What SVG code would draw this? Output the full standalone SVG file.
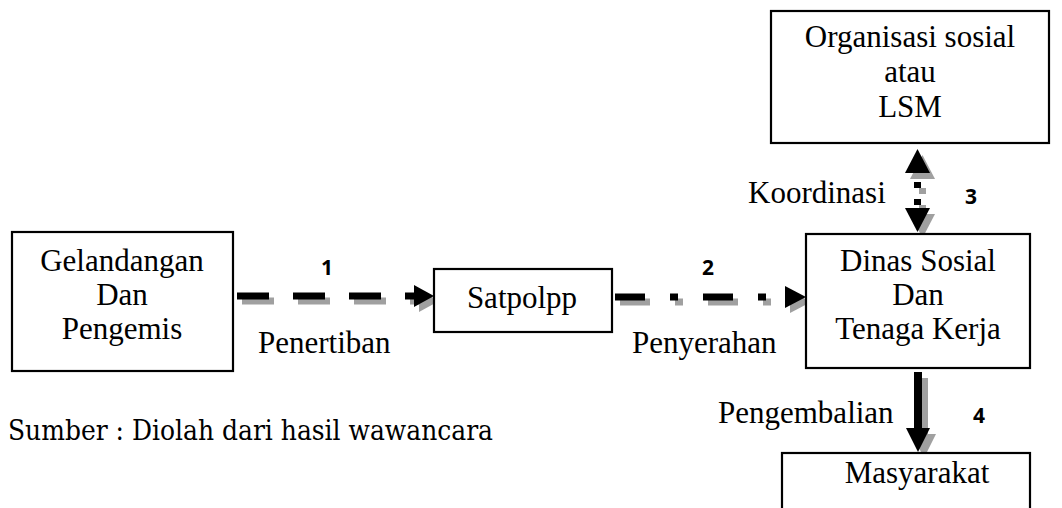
<svg xmlns="http://www.w3.org/2000/svg" width="1062" height="508" viewBox="0 0 1062 508">
<style>
.box{fill:#fff;stroke:#000;stroke-width:2.2}
.t{font-family:"Liberation Serif","Times New Roman",serif;font-size:31px;fill:#000;text-anchor:middle}
.lbl{font-family:"Liberation Serif","Times New Roman",serif;font-size:31px;fill:#000}
.num{font-family:"Noto Sans","Open Sans",sans-serif;font-size:21px;font-weight:bold;fill:#000;text-anchor:middle}
.src{font-family:"DejaVu Serif",serif;font-size:28px;fill:#000}
</style>
<rect width="1062" height="508" fill="#fff"/>

<g id="connectors">
  <g id="arrow1">
    <g transform="translate(5,5)">
      <line x1="237" y1="296" x2="418" y2="296" stroke="#a0a0a0" stroke-width="7" stroke-dasharray="32 24"/>
      <polygon points="414,285 434,296 414,307" fill="#a0a0a0"/>
    </g>
    <line x1="237" y1="296" x2="418" y2="296" stroke="#000" stroke-width="7" stroke-dasharray="32 24"/>
    <polygon points="414,285 434,296 414,307" fill="#000"/>
  </g>
  <g id="arrow2">
    <g transform="translate(5,5)">
      <line x1="615" y1="297" x2="770" y2="297" stroke="#a0a0a0" stroke-width="7" stroke-dasharray="30 25 8 25"/>
      <polygon points="785,286 806,297 785,308" fill="#a0a0a0"/>
    </g>
    <line x1="615" y1="297" x2="770" y2="297" stroke="#000" stroke-width="7" stroke-dasharray="30 25 8 25"/>
    <polygon points="785,286 806,297 785,308" fill="#000"/>
  </g>
  <g id="arrow3">
    <g transform="translate(5,6)">
      <polygon points="905,173 917.5,149 930,173" fill="#a0a0a0"/>
      <line x1="917.5" y1="182" x2="917.5" y2="208" stroke="#a0a0a0" stroke-width="7" stroke-dasharray="6 11"/>
      <polygon points="905,208 930,208 917.5,232" fill="#a0a0a0"/>
    </g>
    <polygon points="905,173 917.5,149 930,173" fill="#000"/>
    <line x1="917.5" y1="182" x2="917.5" y2="208" stroke="#000" stroke-width="7" stroke-dasharray="6 11"/>
    <polygon points="905,208 930,208 917.5,232" fill="#000"/>
  </g>
  <g id="arrow4">
    <g transform="translate(6,6)">
      <rect x="914" y="372" width="8" height="57" fill="#a0a0a0"/>
      <polygon points="906,428 930,428 918,452" fill="#a0a0a0"/>
    </g>
    <rect x="914" y="372" width="8" height="57" fill="#000"/>
    <polygon points="906,428 930,428 918,452" fill="#000"/>
  </g>
</g>

<g id="node-gelandangan">
  <rect class="box" x="12" y="232" width="221" height="139"/>
  <text class="t" x="122" y="271">Gelandangan</text>
  <text class="t" x="122" y="305">Dan</text>
  <text class="t" x="122" y="339">Pengemis</text>
</g>

<g id="node-satpolpp">
  <rect class="box" x="434" y="269" width="178" height="63"/>
  <text class="t" x="522" y="308">Satpolpp</text>
</g>

<g id="node-dinas">
  <rect class="box" x="806" y="234" width="224" height="134"/>
  <text class="t" x="918" y="271">Dinas Sosial</text>
  <text class="t" x="918" y="305">Dan</text>
  <text class="t" x="918" y="339">Tenaga Kerja</text>
</g>

<g id="node-organisasi">
  <rect class="box" x="771" y="11" width="278" height="132"/>
  <text class="t" x="910" y="47">Organisasi sosial</text>
  <text class="t" x="910" y="82">atau</text>
  <text class="t" x="910" y="117">LSM</text>
</g>

<g id="node-masyarakat">
  <rect class="box" x="782" y="453" width="248" height="70"/>
  <text class="t" x="917" y="483">Masyarakat</text>
</g>

<g id="labels">
  <text class="num" x="327" y="275">1</text>
  <text class="num" x="708" y="275">2</text>
  <text class="num" x="971" y="204">3</text>
  <text class="num" x="979" y="423">4</text>
  <text class="lbl" x="258" y="353">Penertiban</text>
  <text class="lbl" x="632" y="353">Penyerahan</text>
  <text class="lbl" x="748" y="203">Koordinasi</text>
  <text class="lbl" x="718" y="423">Pengembalian</text>
  <text class="src" x="8" y="440" textLength="485" lengthAdjust="spacingAndGlyphs">Sumber : Diolah dari hasil wawancara</text>
</g>
</svg>
